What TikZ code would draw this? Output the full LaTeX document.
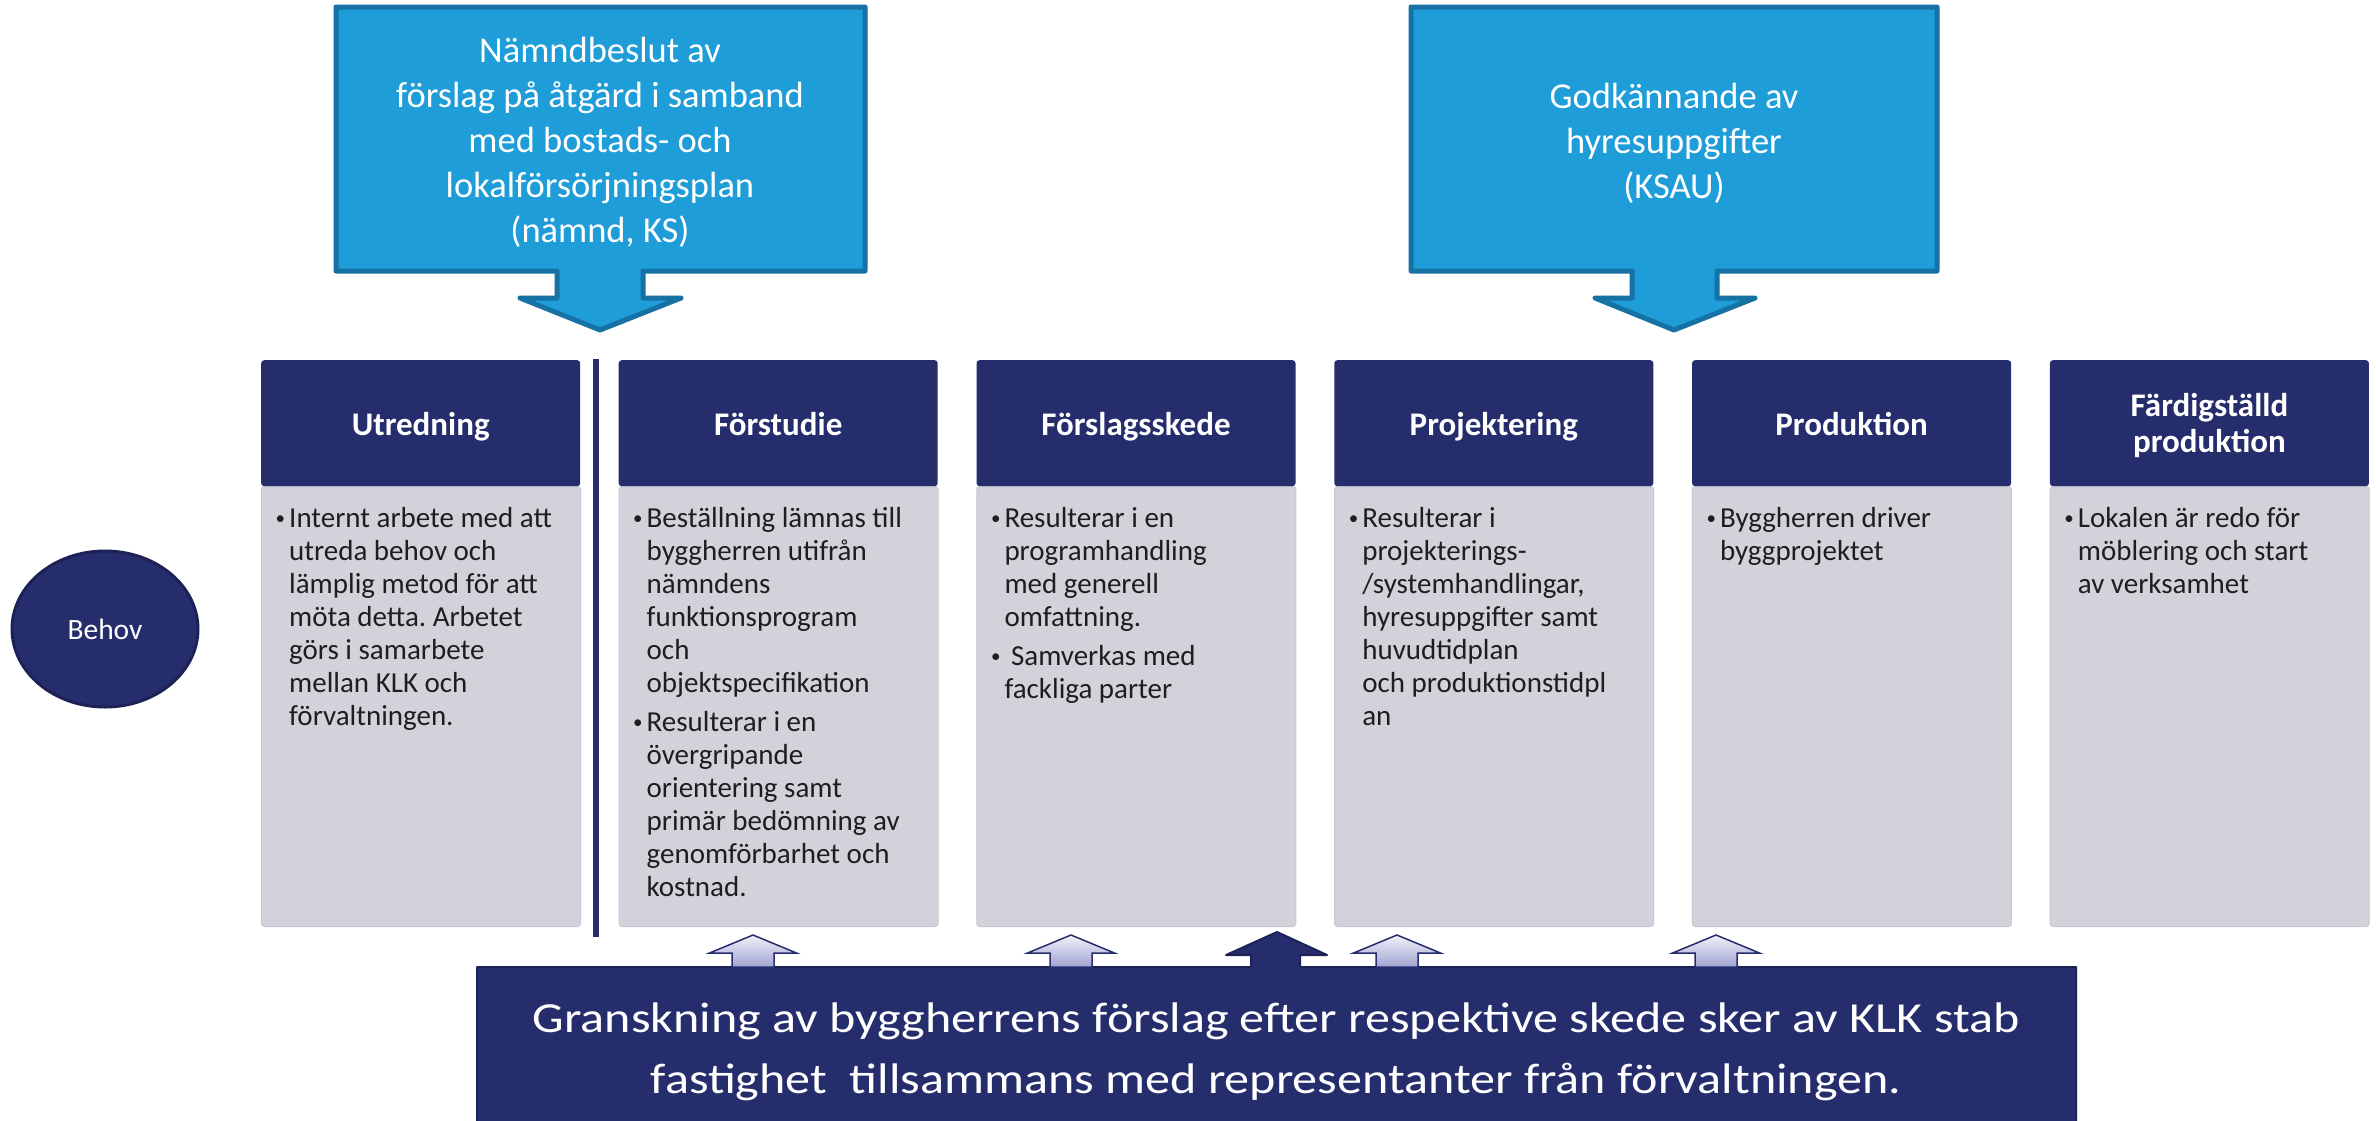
\documentclass[tikz,border=0pt]{standalone}
\usepackage{fontspec}
\setmainfont{Carlito}
\newfontfamily\widefont[FakeStretch=1.17]{Carlito}
\usetikzlibrary{shapes.geometric}
\frenchspacing
\definecolor{navy}{RGB}{38,45,109}
\definecolor{navydark}{RGB}{28,34,86}
\definecolor{bodygray}{RGB}{210,211,218}
\definecolor{bodyedge}{RGB}{198,199,208}
\definecolor{lightblue}{RGB}{30,157,216}
\definecolor{blueedge}{RGB}{22,113,164}
\definecolor{txtdark}{RGB}{30,30,30}
\definecolor{arrowtop}{RGB}{240,241,250}
\definecolor{arrowbot}{RGB}{160,164,208}
\newcommand\bulletmark{\makebox[0pt][r]{{\fontsize{19}{19}\selectfont\raisebox{2.5pt}{\textbullet}}\hspace{4pt}}}
\tikzset{
  hdr/.style={anchor=north west, fill=navy, rounded corners=3pt, minimum width=319pt,
    minimum height=126pt, inner sep=0pt, text=white, align=center,
    font=\fontsize{33}{36}\selectfont\bfseries},
  hdrone/.style={hdr, text height=30pt, text depth=6pt},
  bodybox/.style={anchor=north west, fill=bodygray, draw=bodyedge, line width=1pt,
    rounded corners=3pt, minimum width=319pt, minimum height=440pt, inner sep=0pt},
  bodytxt/.style={anchor=base west, align=left, inner sep=0pt, text=txtdark,
    font=\fontsize{29}{33}\selectfont},
  callout/.style={fill=lightblue, draw=blueedge, line width=5pt, line join=round},
  callouttxt/.style={anchor=base, align=center, inner sep=0pt, text=white,
    font=\fontsize{36.5}{45}\selectfont},
  smallarrow/.style={top color=arrowtop, bottom color=arrowbot, draw=navy, line width=1.5pt, line join=miter},
}
\begin{document}
\begin{tikzpicture}[x=1pt,y=-1pt]
\useasboundingbox (0,0) rectangle (2376,1120);
\fill[white] (0,0) rectangle (2376,1120);

% top callouts (anchor = baseline of last line)
\draw[callout] (336,7) -- (865,7) -- (865,271) -- (643,271) -- (643,298) -- (681,298)
  -- (600,330) -- (520,298) -- (557,298) -- (557,271) -- (336,271) -- cycle;
\node[callouttxt] (k1) at (600,242) {Nämndbeslut av\\förslag på åtgärd i samband\\med bostads- och\\lokalförsörjningsplan\\(nämnd, KS)};

\draw[callout] (1411,7) -- (1937,7) -- (1937,271) -- (1717,271) -- (1717,298) -- (1755,298)
  -- (1674,330) -- (1595,298) -- (1632,298) -- (1632,271) -- (1411,271) -- cycle;
\node[callouttxt] (k2) at (1674,198) {Godkännande av\\hyresuppgifter\\(KSAU)};

% Behov
\node[ellipse, fill=navy, draw=navydark, line width=3pt, minimum width=186pt, minimum height=156pt,
  inner sep=0pt, text=white, font=\fontsize{29.5}{33}\selectfont] (behov) at (105,629) {Behov};

% columns
\node[bodybox] (c1) at (261,486) {};
\node[bodybox] (c2) at (618.5,486) {};
\node[bodybox] (c3) at (976.3,486) {};
\node[bodybox] (c4) at (1334.1,486) {};
\node[bodybox] (c5) at (1691.9,486) {};
\node[bodybox] (c6) at (2049.7,486) {};

\node[hdrone] (h1) at (261,360) {Utredning};
\node[hdrone] (h2) at (618.5,360) {Förstudie};
\node[hdrone] (h3) at (976.3,360) {Förslagsskede};
\node[hdrone] (h4) at (1334.1,360) {Projektering};
\node[hdrone] (h5) at (1691.9,360) {Produktion};
\node[hdr] (h6) at (2049.7,360) {\vphantom{Ä}\\[-36pt]\rule{0pt}{6pt}Färdigställd\\produktion};

% separator line
\fill[navy] (593,359) rectangle (599,937);

% body texts (anchor = baseline of last line; first baseline at 527)
\node[bodytxt] (t1) at ([xshift=28pt,yshift=-239pt]c1.north west)
 {\bulletmark Internt arbete med att\\utreda behov och\\lämplig metod för att\\möta detta. Arbetet\\görs i samarbete\\mellan KLK och\\förvaltningen.};
\node[bodytxt] (t2) at ([xshift=28pt,yshift=-410pt]c2.north west)
 {\bulletmark Beställning lämnas till\\byggherren utifrån\\nämndens\\funktionsprogram\\och\\objektspecifikation\\[6pt]
  \bulletmark Resulterar i en\\övergripande\\orientering samt\\primär bedömning av\\genomförbarhet och\\kostnad.};
\node[bodytxt] (t3) at ([xshift=28pt,yshift=-212pt]c3.north west)
 {\bulletmark Resulterar i en\\programhandling\\med generell\\omfattning.\\[6pt]
  \bulletmark\ Samverkas med\\fackliga parter};
\node[bodytxt] (t4) at ([xshift=28pt,yshift=-239pt]c4.north west)
 {\bulletmark Resulterar i\\projekterings-\\/systemhandlingar,\\hyresuppgifter samt\\huvudtidplan\\och produktionstidpl\\an};
\node[bodytxt] (t5) at ([xshift=28pt,yshift=-74pt]c5.north west)
 {\bulletmark Byggherren driver\\byggprojektet};
\node[bodytxt] (t6) at ([xshift=28pt,yshift=-107pt]c6.north west)
 {\bulletmark Lokalen är redo för\\möblering och start\\av verksamhet};

% bottom box with up arrow
\draw[fill=navy, draw=navydark, line width=2pt, line join=round]
  (477,967) -- (1251,967) -- (1251,955) -- (1226,955) -- (1277,932) -- (1327,955)
  -- (1300,955) -- (1300,967) -- (2076,967) -- (2076,1126) -- (477,1126) -- cycle;
\node[anchor=base, align=center, inner sep=0pt, text=white, font=\widefont\fontsize{42.8}{61}\selectfont] (gr) at (1276,1093)
 {Granskning av byggherrens förslag efter respektive skede sker av KLK stab\\fastighet\ \ tillsammans med representanter från förvaltningen.};

% small up arrows
\foreach \cx in {753,1071,1397,1716}{
  \shade[smallarrow] (\cx,935) -- ++(43.5,18) -- ++(-22.5,0) -- ++(0,14) -- ++(-42,0)
    -- ++(0,-14) -- ++(-22.5,0) -- cycle;
}
\end{tikzpicture}
\end{document}
